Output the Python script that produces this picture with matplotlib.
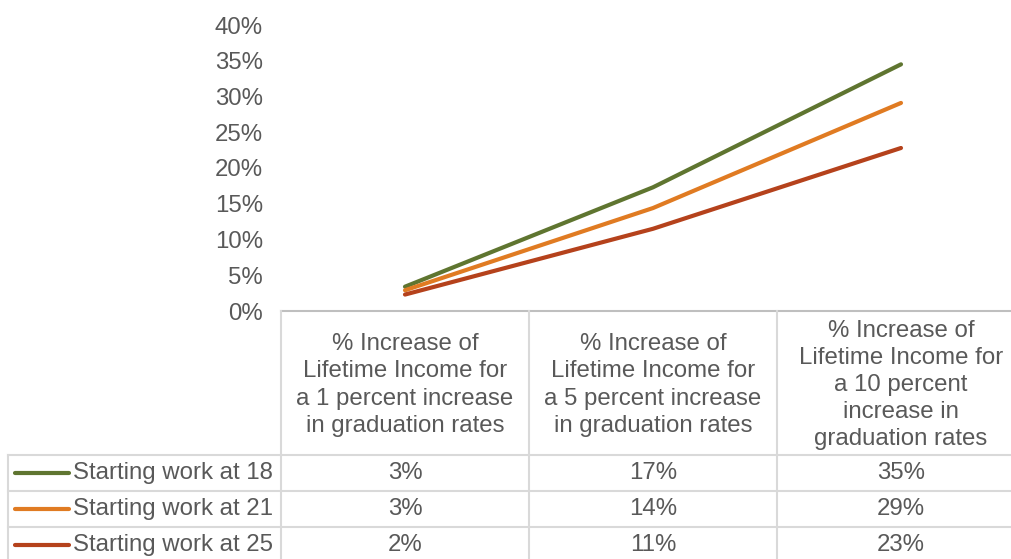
import matplotlib.pyplot as plt
from matplotlib.lines import Line2D

plt.rcParams['font.family'] = ['Liberation Sans', 'DejaVu Sans']

# DATA
categories = [
    "% Increase of\nLifetime Income for\na 1 percent increase\nin graduation rates",
    "% Increase of\nLifetime Income for\na 5 percent increase\nin graduation rates",
    "% Increase of\nLifetime Income for\na 10 percent\nincrease in\ngraduation rates",
]
series_names = ["Starting work at 18", "Starting work at 21", "Starting work at 25"]
start_18 = [0.034, 0.173, 0.345]
start_21 = [0.029, 0.144, 0.291]
start_25 = [0.023, 0.115, 0.228]
table_labels = [["3%", "17%", "35%"],
                ["3%", "14%", "29%"],
                ["2%", "11%", "23%"]]
colors = ["#5F7530", "#E07B22", "#B5421C"]
yticks = [0, 0.05, 0.10, 0.15, 0.20, 0.25, 0.30, 0.35, 0.40]

W, H = 1012, 559
fs = 17.3
fig = plt.figure(figsize=(W / 100, H / 100), dpi=100)

# plot area in pixels
left, right, top, bottom = 281, 1025, 25, 311
ax = fig.add_axes([left / W, 1 - bottom / H, (right - left) / W, (bottom - top) / H])
ax.set_xlim(-0.5, 2.5)
ax.set_ylim(0, 0.40)
for vals, c in zip([start_18, start_21, start_25], colors):
    ax.plot(range(3), vals, color=c, lw=3, solid_capstyle='round',
            solid_joinstyle='round')
for s in ax.spines.values():
    s.set_visible(False)
ax.set_xticks([])
ax.set_yticks(yticks)
ax.set_yticklabels([f"{int(round(v * 100))}%" for v in yticks])
ax.tick_params(axis='y', length=0, pad=13, labelsize=fs, labelcolor='#595959')

# data table drawn in pixel coordinates
tab = fig.add_axes([0, 0, 1, 1])
tab.set_xlim(0, W)
tab.set_ylim(H, 0)
tab.axis('off')

col_w = 248
col_x = [left + i * col_w for i in range(4)]
row_y = [455, 491, 527, 563]
grid = '#D9D9D9'
txt = '#595959'

# x axis line / top of table
tab.add_line(Line2D([left, W], [bottom, bottom], color='#BFBFBF', lw=1.5))
# column separators
for x in col_x[:3]:
    tab.add_line(Line2D([x, x], [bottom, H], color=grid, lw=1.5))
tab.add_line(Line2D([8, 8], [row_y[0], H], color=grid, lw=1.5))
# row separators
for y in row_y[:3]:
    tab.add_line(Line2D([8, W], [y, y], color=grid, lw=1.5))

# header
for i, cat in enumerate(categories):
    tab.text(col_x[i] + col_w / 2, (bottom + row_y[0]) / 2 + 2, cat,
             ha='center', va='center', fontsize=fs, color=txt, linespacing=1.3)

# rows
for r, name in enumerate(series_names):
    yc = row_y[r] + 18
    tab.add_line(Line2D([15, 69], [yc, yc], color=colors[r], lw=3,
                        solid_capstyle='round'))
    tab.text(73, yc, name, ha='left', va='center', fontsize=fs, color=txt)
    for i in range(3):
        tab.text(col_x[i] + col_w / 2, yc, table_labels[r][i],
                 ha='center', va='center', fontsize=fs, color=txt)

fig.savefig('out.png', dpi=100)
